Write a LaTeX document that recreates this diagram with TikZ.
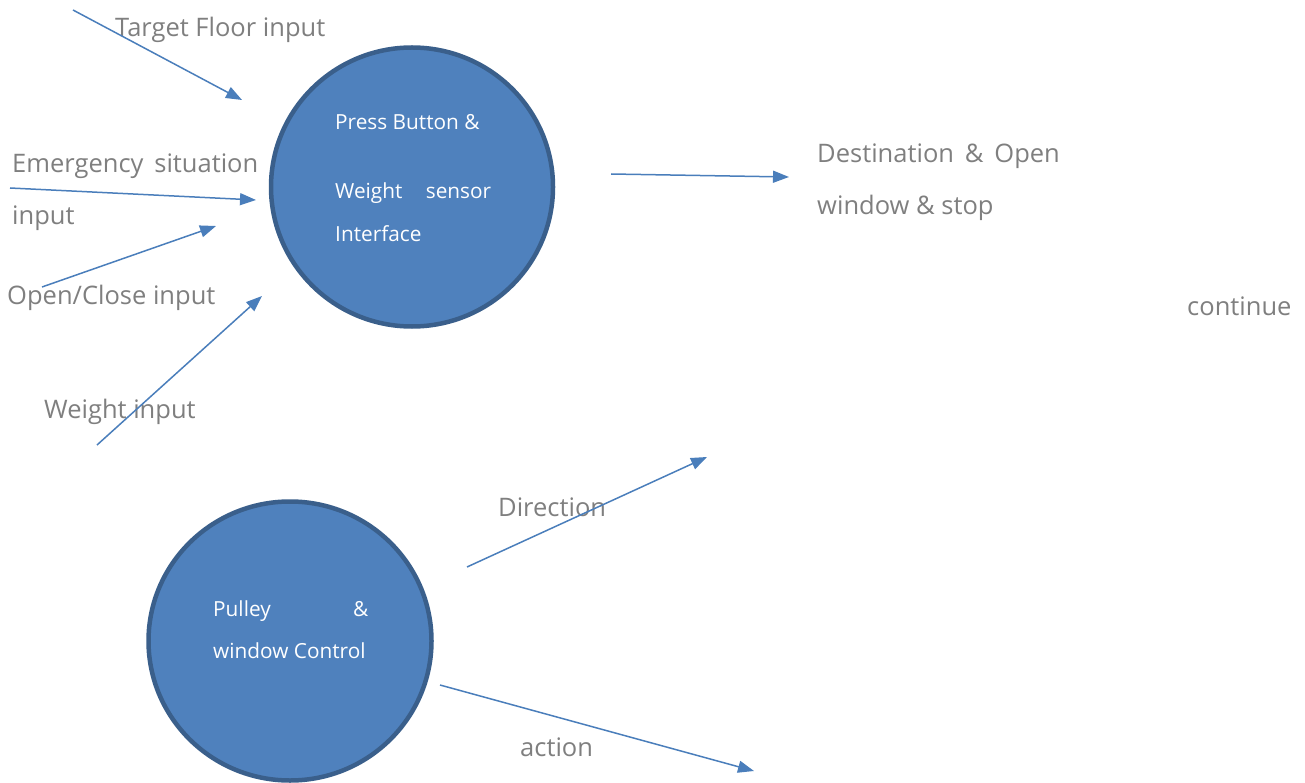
\documentclass[tikz,border=0pt]{standalone}
\usepackage{fontspec}
\setmainfont{Open Sans}
\usetikzlibrary{arrows.meta,shapes.geometric}
\definecolor{procfill}{HTML}{4F81BD}
\definecolor{procline}{HTML}{3A5F8B}
\definecolor{flowline}{HTML}{4A7EBB}
\definecolor{labelgray}{HTML}{7F7F7F}
\tikzset{
  process/.style={ellipse, fill=procfill, draw=procline, line width=4.5pt, inner sep=0pt},
  flow/.style={draw=flowline, line width=1.5pt, -{Triangle[length=16pt,width=12pt]}},
  flowlabel/.style={anchor=base west, inner sep=0pt, text=labelgray, font=\fontsize{25.5}{30}\selectfont},
  proclabel/.style={anchor=base west, inner sep=0pt, text=white, font=\fontsize{20.8}{25}\selectfont},
}
\begin{document}
\begin{tikzpicture}[x=1pt,y=-1pt]
\useasboundingbox (0,0) rectangle (1305,783);

% processes
\node[process, minimum width=282pt, minimum height=279pt] (iface) at (412,187) {};
\node[process, minimum width=283pt, minimum height=279pt] (pulley) at (290,641) {};

% text inside the processes
\node[proclabel] (t1) at (335,130) {Press Button \&};
\node[proclabel] (t2) at (335,199) {\hbox to 156pt{Weight\hfill sensor}};
\node[proclabel] (t3) at (335,242) {Interface};
\node[proclabel] (t4) at (213,616) {\hbox to 155pt{Pulley\hfill \&}};
\node[proclabel] (t5) at (213,658) {window Control};

% flow labels
\node[flowlabel] (l1) at (115,36.5) {Target Floor input};
\node[flowlabel] (l2) at (12,172.5) {Emergency\, situation};
\node[flowlabel] (l3) at (12,224.5) {input};
\node[flowlabel] (l4) at (7,304.5) {Open/Close input};
\node[flowlabel] (l5) at (44,418.5) {Weight input};
\node[flowlabel] (l6) at (817,162.5) {Destination \,\&\, Open};
\node[flowlabel] (l7) at (817,214.5) {window \& stop};
\node[flowlabel] (l8) at (1187,315.5) {continue};
\node[flowlabel] (l9) at (498,516.5) {Direction};
\node[flowlabel] (l10) at (520,756.5) {action};

% connector end points
\coordinate (a1s) at (73,10);   \coordinate (a1e) at (242,100);
\coordinate (a2s) at (10,188);  \coordinate (a2e) at (256,200);
\coordinate (a3s) at (42,287);  \coordinate (a3e) at (216,226);
\coordinate (a4s) at (97,445);  \coordinate (a4e) at (262,296);
\coordinate (a5s) at (611,174); \coordinate (a5e) at (789,177);
\coordinate (a6s) at (467,567); \coordinate (a6e) at (707,457);
\coordinate (a7s) at (440,685); \coordinate (a7e) at (754,771);

\draw[flow] (a1s) -- (a1e);
\draw[flow] (a2s) -- (a2e);
\draw[flow] (a3s) -- (a3e);
\draw[flow] (a4s) -- (a4e);
\draw[flow] (a5s) -- (a5e);
\draw[flow] (a6s) -- (a6e);
\draw[flow] (a7s) -- (a7e);
\end{tikzpicture}
\end{document}
